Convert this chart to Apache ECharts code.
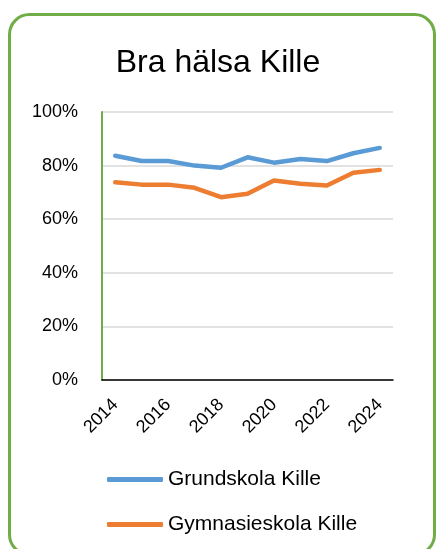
<!DOCTYPE html>
<html>
<head>
<meta charset="utf-8">
<script src="https://cdn.jsdelivr.net/npm/echarts@6/dist/echarts.min.js"></script>
<style>
  html, body { margin: 0; padding: 0; background: #fff; }
  #chart { width: 436px; height: 549px; }
</style>
</head>
<body>
<div id="chart"></div>
<script>
// years on the x axis
var years = ['2014', '2015', '2016', '2017', '2018', '2019', '2020', '2021', '2022', '2023', '2024'];
// share with good health, in percent
var grundskola = [83.7, 81.7, 81.7, 80.0, 79.2, 83.1, 81.1, 82.5, 81.7, 84.6, 86.6];
var gymnasieskola = [73.8, 72.9, 72.9, 71.7, 68.2, 69.5, 74.4, 73.2, 72.6, 77.3, 78.4];
var yTicks = [0, 20, 40, 60, 80, 100];

var font = 'Liberation Sans';
var chart = echarts.init(document.getElementById('chart'));
chart.setOption({
  animation: false,
  textStyle: { fontFamily: font },
  graphic: [{
    type: 'rect',
    shape: { x: 9.5, y: 14.5, width: 425, height: 540, r: 20 },
    style: { fill: 'none', stroke: '#70ad47', lineWidth: 3 },
    silent: true
  }],
  title: {
    text: 'Bra hälsa Kille',
    left: 'center',
    top: 42,
    textStyle: { fontFamily: font, fontSize: 32, fontWeight: 'normal', color: '#000' }
  },
  grid: { left: 102, right: 43, top: 112, bottom: 169 },
  legend: {
    orient: 'vertical',
    left: 102,
    top: 464,
    icon: 'roundRect',
    itemWidth: 56,
    itemHeight: 5,
    itemGap: 24,
    itemTextGap: 4,
    textStyle: { fontFamily: font, fontSize: 21, color: '#000' },
    data: ['Grundskola Kille', 'Gymnasieskola Kille']
  },
  xAxis: {
    type: 'category',
    data: years,
    boundaryGap: true,
    axisLine: { lineStyle: { color: '#000', width: 1.5 } },
    axisTick: { show: false },
    axisLabel: { interval: 1, rotate: 45, margin: 22, fontSize: 18, color: '#000', fontFamily: font }
  },
  yAxis: {
    type: 'value',
    min: yTicks[0],
    max: yTicks[yTicks.length - 1],
    interval: 20,
    axisLine: { show: true, lineStyle: { color: '#70ad47', width: 2 } },
    axisTick: { show: false },
    axisLabel: { formatter: '{value}%', margin: 24, fontSize: 18, color: '#000', fontFamily: font },
    splitLine: { lineStyle: { color: '#d9d9d9', width: 1.5 } }
  },
  series: [
    {
      name: 'Grundskola Kille',
      type: 'line',
      data: grundskola,
      symbol: 'none',
      color: '#5b9bd5',
      lineStyle: { width: 4.5, cap: 'round', join: 'round' }
    },
    {
      name: 'Gymnasieskola Kille',
      type: 'line',
      data: gymnasieskola,
      symbol: 'none',
      color: '#ed7d31',
      lineStyle: { width: 4.5, cap: 'round', join: 'round' }
    }
  ]
});
</script>
</body>
</html>
